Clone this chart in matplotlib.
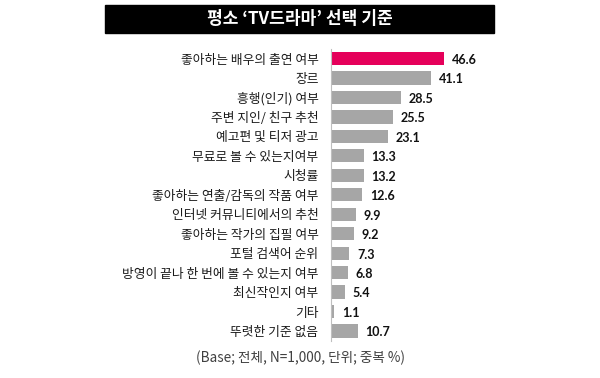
import matplotlib
matplotlib.use("Agg")
import matplotlib.pyplot as plt
from matplotlib.patches import Rectangle

plt.rcParams['font.family'] = ['Noto Sans CJK KR', 'DejaVu Sans']

title = "평소 ‘TV드라마’ 선택 기준"
labels = ["좋아하는 배우의 출연 여부", "장르", "흥행(인기) 여부", "주변 지인/ 친구 추천",
          "예고편 및 티저 광고", "무료로 볼 수 있는지여부", "시청률",
          "좋아하는 연출/감독의 작품 여부", "인터넷 커뮤니티에서의 추천",
          "좋아하는 작가의 집필 여부", "포털 검색어 순위",
          "방영이 끝나 한 번에 볼 수 있는지 여부", "최신작인지 여부", "기타", "뚜렷한 기준 없음"]
values = [46.6, 41.1, 28.5, 25.5, 23.1, 13.3, 13.2, 12.6, 9.9, 9.2, 7.3, 6.8, 5.4, 1.1, 10.7]
note = "(Base; 전체, N=1,000, 단위; 중복 %)"

W, H = 600, 378
fig = plt.figure(figsize=(6, 3.78), dpi=100)

# title bar
fig.patches.append(Rectangle((105 / W, 1 - 33 / H), (494 - 105) / W, 28 / H,
                             transform=fig.transFigure, color="black", zorder=0))
fig.text(300 / W, 1 - 19 / H, title, color="white", fontsize=12.3, fontweight="bold",
         ha="center", va="center")

# axes: x=0 at pixel 331, ~2.42 px per unit
ax = fig.add_axes([331 / W, 1 - 340.7 / H, 145 / W, 291.9 / H])
colors = ["#E5005A"] + ["#A6A6A6"] * (len(values) - 1)
y = list(range(len(values)))
ax.barh(y, values, height=0.68, color=colors, left=0.3)
ax.set_xlim(0, 145 / 2.42)
ax.set_ylim(len(values) - 0.5, -0.5)

ax.set_yticks(y)
ax.set_yticklabels(labels, fontsize=9.2, color="#1a1a1a")
ax.tick_params(axis="y", length=0, pad=9)
ax.set_xticks([])
for s in ["top", "right", "bottom"]:
    ax.spines[s].set_visible(False)
ax.spines["left"].set_color("#BFBFBF")
ax.spines["left"].set_linewidth(0.8)

for yi, v in zip(y, values):
    ax.annotate(f"{v}", (v + 0.3, yi), xytext=(5.5, -1), textcoords="offset points",
                ha="left", va="center", fontsize=9, fontweight="bold",
                color="#111111", family=["Lato", "DejaVu Sans"])

fig.text(301 / W, 1 - 358 / H, note, fontsize=9.8, color="#404040",
         ha="center", va="center")

fig.savefig("out.png", dpi=100)
